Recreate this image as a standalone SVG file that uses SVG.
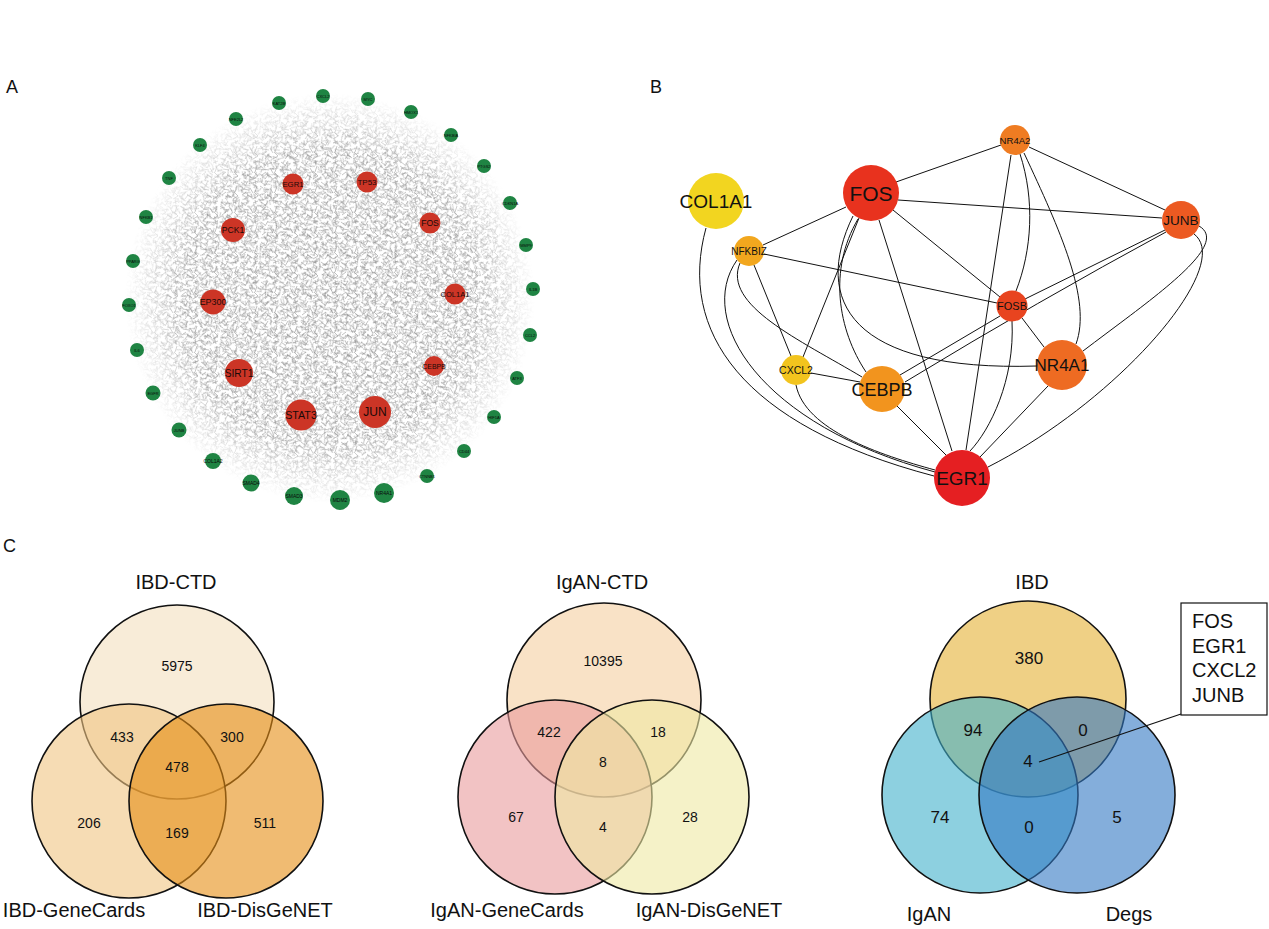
<svg xmlns="http://www.w3.org/2000/svg" width="1269" height="929" viewBox="0 0 1269 929">
<style>
text{font-family:"Liberation Sans",Arial,sans-serif;fill:#111;}
.let{font-size:18px;}
.rn{fill:#cc3526;}
.gn{fill:#1f8443;}
.gl{font-size:4px;text-anchor:middle;fill:#0a0a0a;}
.rl{text-anchor:middle;fill:#1a0a08;}
.e{fill:none;stroke:#111;stroke-width:1;}
.bl{text-anchor:middle;}
.vc{stroke:#111;stroke-width:1.6;fill-opacity:0.6;}
.vt{font-size:20px;text-anchor:middle;}
.vn{font-size:14px;text-anchor:middle;}
.vn3{font-size:17px;text-anchor:middle;}
.cl{fill:none;stroke:#8a8a8a;stroke-width:0.55;}
</style>
<defs>
<pattern id="pA" width="20" height="20" patternUnits="userSpaceOnUse">
<path class="cl" d="M1 2l4 3M8 1l-3 5M13 3l5-2M17 6l-2 6M3 9l6 1M10 8l3 5M2 15l4-3M7 14l5 4M14 12l4 4M18 16l-5 3M5 19l3-4M11 17l-4-2M0 6l3 2M15 0l1 4"/>
</pattern>
<pattern id="pB" width="27" height="27" patternUnits="userSpaceOnUse" patternTransform="rotate(37)">
<path class="cl" d="M2 3l6 2M12 2l-2 6M20 4l5 3M4 11l3 5M14 10l6-1M22 13l-4 5M1 21l5-2M9 18l4 6M17 21l6 2M24 24l-3 2M6 25l4-1M15 15l-3 3"/>
</pattern>
<pattern id="pC" width="33" height="33" patternUnits="userSpaceOnUse" patternTransform="rotate(71)">
<path class="cl" d="M3 4l7 3M16 2l-3 7M26 5l5 4M5 16l6-2M18 14l3 6M27 18l-6 3M2 27l5 3M12 25l7-2M23 28l5-4M30 31l-4 1M9 8l2 4"/>
</pattern>
<pattern id="pD" width="17" height="17" patternUnits="userSpaceOnUse" patternTransform="rotate(113)">
<path class="cl" d="M1 1l3 4M7 3l4-1M13 2l2 5M3 9l5 2M10 9l-2 5M15 11l-4 3M2 15l4 1M12 16l3-2"/>
</pattern>
<pattern id="pE" width="23" height="23" patternUnits="userSpaceOnUse" patternTransform="rotate(151)">
<path class="cl" d="M2 2l5 1M11 1l-2 5M18 3l3 4M4 10l2 5M12 9l5 3M20 13l-3 4M3 19l5 2M13 18l-4-3M19 20l3 2"/>
</pattern>
<radialGradient id="rg" cx="330" cy="298" r="205" gradientUnits="userSpaceOnUse">
<stop offset="0" stop-color="#fff" stop-opacity="1"/>
<stop offset="0.72" stop-color="#fff" stop-opacity="0.9"/>
<stop offset="1" stop-color="#fff" stop-opacity="0"/>
</radialGradient>
<mask id="mA"><circle cx="330" cy="298" r="205" fill="url(#rg)"/></mask>
</defs>
<rect width="1269" height="929" fill="#fff"/>

<text class="let" x="6" y="93">A</text>
<text class="let" x="650" y="93">B</text>
<text class="let" x="3" y="552">C</text>

<!-- Panel A -->
<g id="panelA-cloud" mask="url(#mA)">
<rect x="120" y="90" width="420" height="420" fill="url(#pA)"/>
<rect x="120" y="90" width="420" height="420" fill="url(#pB)"/>
<rect x="120" y="90" width="420" height="420" fill="url(#pC)"/>
<rect x="120" y="90" width="420" height="420" fill="url(#pD)"/>
<rect x="120" y="90" width="420" height="420" fill="url(#pE)"/>
</g>
<g id="panelA-nodes">
<g id="a-KAT2B"><circle class="gn" cx="279" cy="103" r="7"/><text class="gl" x="279" y="104.5">KAT2B</text></g>
<g id="a-CXCL2"><circle class="gn" cx="323" cy="96" r="7"/><text class="gl" x="323" y="97.5">CXCL2</text></g>
<g id="a-MYC"><circle class="gn" cx="368" cy="99" r="7"/><text class="gl" x="368" y="100.5">MYC</text></g>
<g id="a-HMOX1"><circle class="gn" cx="411" cy="112" r="7"/><text class="gl" x="411" y="113.5">HMOX1</text></g>
<g id="a-NFKBIA"><circle class="gn" cx="451" cy="135" r="7"/><text class="gl" x="451" y="136.5">NFKBIA</text></g>
<g id="a-PTGS2"><circle class="gn" cx="484" cy="166" r="7"/><text class="gl" x="484" y="167.5">PTGS2</text></g>
<g id="a-CDKN1A"><circle class="gn" cx="510" cy="203" r="7"/><text class="gl" x="510" y="204.5">CDKN1A</text></g>
<g id="a-MMP9"><circle class="gn" cx="526" cy="245" r="7"/><text class="gl" x="526" y="246.5">MMP9</text></g>
<g id="a-IL1B"><circle class="gn" cx="533" cy="289" r="7"/><text class="gl" x="533" y="290.5">IL1B</text></g>
<g id="a-CCL2"><circle class="gn" cx="530" cy="335" r="7"/><text class="gl" x="530" y="336.5">CCL2</text></g>
<g id="a-ATF3"><circle class="gn" cx="517" cy="378" r="7"/><text class="gl" x="517" y="379.5">ATF3</text></g>
<g id="a-HIF1A"><circle class="gn" cx="494" cy="417" r="7"/><text class="gl" x="494" y="418.5">HIF1A</text></g>
<g id="a-CD44"><circle class="gn" cx="464" cy="451" r="7"/><text class="gl" x="464" y="452.5">CD44</text></g>
<g id="a-CTNNB1"><circle class="gn" cx="427" cy="476" r="7"/><text class="gl" x="427" y="477.5">CTNNB1</text></g>
<g id="a-NR4A1"><circle class="gn" cx="384" cy="493" r="10"/><text class="gl" x="384" y="494.5" style="font-size:5px">NR4A1</text></g>
<g id="a-MDM2"><circle class="gn" cx="340" cy="500" r="10"/><text class="gl" x="340" y="501.5" style="font-size:5px">MDM2</text></g>
<g id="a-SMAD3"><circle class="gn" cx="294" cy="496" r="9"/><text class="gl" x="294" y="497.5" style="font-size:5px">SMAD3</text></g>
<g id="a-SMAD4"><circle class="gn" cx="251" cy="483" r="8.5"/><text class="gl" x="251" y="484.5" style="font-size:5px">SMAD4</text></g>
<g id="a-COL1A2"><circle class="gn" cx="213" cy="461" r="8"/><text class="gl" x="213" y="462.5" style="font-size:5px">COL1A2</text></g>
<g id="a-JUNB"><circle class="gn" cx="179" cy="430" r="7.5"/><text class="gl" x="179" y="431.5">JUNB</text></g>
<g id="a-EGFR"><circle class="gn" cx="153" cy="393" r="7.5"/><text class="gl" x="153" y="394.5">EGFR</text></g>
<g id="a-IL6"><circle class="gn" cx="137" cy="350" r="7"/><text class="gl" x="137" y="351.5">IL6</text></g>
<g id="a-FOXO1"><circle class="gn" cx="129" cy="305" r="7"/><text class="gl" x="129" y="306.5">FOXO1</text></g>
<g id="a-PPARG"><circle class="gn" cx="133" cy="261" r="7"/><text class="gl" x="133" y="262.5">PPARG</text></g>
<g id="a-NFKB1"><circle class="gn" cx="146" cy="217" r="7"/><text class="gl" x="146" y="218.5">NFKB1</text></g>
<g id="a-TNF"><circle class="gn" cx="169" cy="178" r="7"/><text class="gl" x="169" y="179.5">TNF</text></g>
<g id="a-KLF4"><circle class="gn" cx="200" cy="145" r="7"/><text class="gl" x="200" y="146.5">KLF4</text></g>
<g id="a-NFE2L2"><circle class="gn" cx="236" cy="119" r="7"/><text class="gl" x="236" y="120.5">NFE2L2</text></g>

<g id="a-EGR1"><circle class="rn" cx="293" cy="184" r="10.5"/><text class="rl" x="293" y="187" style="font-size:7.8px">EGR1</text></g>
<g id="a-TP53"><circle class="rn" cx="367" cy="182" r="10.5"/><text class="rl" x="367" y="185" style="font-size:8px">TP53</text></g>
<g id="a-PCK1"><circle class="rn" cx="233" cy="230" r="12"/><text class="rl" x="233" y="233" style="font-size:8.6px">PCK1</text></g>
<g id="a-FOS"><circle class="rn" cx="430" cy="223" r="10.5"/><text class="rl" x="430" y="226" style="font-size:8.6px">FOS</text></g>
<g id="a-EP300"><circle class="rn" cx="213" cy="302" r="12.5"/><text class="rl" x="213" y="305" style="font-size:8.9px">EP300</text></g>
<g id="a-COL1A1"><circle class="rn" cx="455" cy="294" r="10.5"/><text class="rl" x="455" y="296.8" style="font-size:7.5px">COL1A1</text></g>
<g id="a-SIRT1"><circle class="rn" cx="239" cy="373" r="14"/><text class="rl" x="239" y="376.5" style="font-size:10.2px">SIRT1</text></g>
<g id="a-CEBPB"><circle class="rn" cx="434" cy="366" r="10"/><text class="rl" x="434" y="368.5" style="font-size:6.9px">CEBPB</text></g>
<g id="a-STAT3"><circle class="rn" cx="301" cy="415" r="15.5"/><text class="rl" x="301" y="419" style="font-size:10.7px">STAT3</text></g>
<g id="a-JUN"><circle class="rn" cx="375" cy="412" r="16"/><text class="rl" x="375" y="416" style="font-size:12px">JUN</text></g>
</g>

<!-- Panel B connectors -->
<g id="panelB-edges">
<path class="e" d="M896,182 L1001,145"/>
<path class="e" d="M898,200 L1162,218"/>
<path class="e" d="M1029,147 L1165,210"/>
<path class="e" d="M846,207 L763,245"/>
<path class="e" d="M764,254 L997,303"/>
<path class="e" d="M893,210 L1000,297"/>
<path class="e" d="M879,220 L952,451"/>
<path class="e" d="M1025,299 L1165,230"/>
<path class="e" d="M1022,318 L1044,347"/>
<path class="e" d="M1000,316 L900,375"/>
<path class="e" d="M1166,232 Q1040,300 905,382"/>
<path class="e" d="M1199,226 C1232,245 1150,300 1083,351"/>
<path class="e" d="M1194,234 C1235,265 1120,400 988,467"/>
<path class="e" d="M1011,155 L966,450"/>
<path class="e" d="M1020,154 C1035,200 1032,250 1016,291"/>
<path class="e" d="M1024,153 C1060,230 1092,300 1076,344"/>
<path class="e" d="M1012,321 C1015,380 990,430 970,451"/>
<path class="e" d="M1048,386 L980,457"/>
<path class="e" d="M897,406 L946,455"/>
<path class="e" d="M811,373 L860,382"/>
<path class="e" d="M803,357 L859,218"/>
<path class="e" d="M754,265 L791,356"/>
<path class="e" d="M740,263 C722,305 800,340 862,377"/>
<path class="e" d="M737,260 C695,320 760,425 935,472"/>
<path class="e" d="M706,228 C678,330 740,425 934,476"/>
<path class="e" d="M796,385 C805,430 880,455 935,470"/>
<path class="e" d="M858,219 C828,270 838,330 866,372"/>
<path class="e" d="M853,216 C812,300 850,372 1037,366"/>
</g>
<!-- Panel B nodes -->
<g id="b-COL1A1"><circle cx="716" cy="201" r="28" fill="#f2d520"/><text class="bl" x="716" y="208" style="font-size:19px">COL1A1</text></g>
<g id="b-FOS"><circle cx="871" cy="193" r="28" fill="#e8321e"/><text class="bl" x="871" y="200.5" style="font-size:21px">FOS</text></g>
<g id="b-NR4A2"><circle cx="1015" cy="140" r="15" fill="#ef7c22"/><text class="bl" x="1015" y="143.5" style="font-size:9.6px">NR4A2</text></g>
<g id="b-JUNB"><circle cx="1181" cy="220" r="19" fill="#ec5a22"/><text class="bl" x="1181" y="225" style="font-size:13.5px">JUNB</text></g>
<g id="b-NFKBIZ"><circle cx="749" cy="251" r="15" fill="#f2a71e"/><text class="bl" x="749" y="254.5" style="font-size:10px">NFKBIZ</text></g>
<g id="b-FOSB"><circle cx="1012" cy="306" r="15.5" fill="#e8441f"/><text class="bl" x="1012" y="310" style="font-size:11px">FOSB</text></g>
<g id="b-CXCL2"><circle cx="796" cy="370" r="15" fill="#f2c41e"/><text class="bl" x="796" y="373.7" style="font-size:10.5px">CXCL2</text></g>
<g id="b-CEBPB"><circle cx="882" cy="389" r="23" fill="#f2941e"/><text class="bl" x="882" y="395.5" style="font-size:18px">CEBPB</text></g>
<g id="b-NR4A1"><circle cx="1062" cy="365" r="25" fill="#ee6b22"/><text class="bl" x="1062" y="371" style="font-size:17px">NR4A1</text></g>
<g id="b-EGR1"><circle cx="962" cy="478" r="28" fill="#e51f22"/><text class="bl" x="962" y="485" style="font-size:19px">EGR1</text></g>

<!-- Panel C venn 1 -->
<g id="venn1">
<circle class="vc" cx="177" cy="702" r="97" fill="#f3dfbe"/>
<circle class="vc" cx="129" cy="801" r="97" fill="#f0c582"/>
<circle class="vc" cx="226" cy="801" r="97" fill="#e68e14"/>
<text class="vt" x="176" y="589">IBD-CTD</text>
<text class="vt" x="74" y="917">IBD-GeneCards</text>
<text class="vt" x="265" y="917">IBD-DisGeNET</text>
<text class="vn" x="177" y="671">5975</text>
<text class="vn" x="122" y="742">433</text>
<text class="vn" x="232" y="742">300</text>
<text class="vn" x="177" y="772">478</text>
<text class="vn" x="89" y="828">206</text>
<text class="vn" x="177" y="838">169</text>
<text class="vn" x="265" y="828">511</text>
</g>

<!-- venn 2 -->
<g id="venn2">
<circle class="vc" cx="604" cy="700" r="97" fill="#f5cfa0"/>
<circle class="vc" cx="555" cy="797" r="97" fill="#e99b9d"/>
<circle class="vc" cx="652" cy="797" r="97" fill="#eee9a3"/>
<text class="vt" x="602" y="589">IgAN-CTD</text>
<text class="vt" x="507" y="917">IgAN-GeneCards</text>
<text class="vt" x="709" y="917">IgAN-DisGeNET</text>
<text class="vn" x="603" y="666">10395</text>
<text class="vn" x="549" y="737">422</text>
<text class="vn" x="658" y="737">18</text>
<text class="vn" x="603" y="767">8</text>
<text class="vn" x="516" y="822">67</text>
<text class="vn" x="603" y="832">4</text>
<text class="vn" x="690" y="822">28</text>
</g>

<!-- venn 3 -->
<g id="venn3">
<circle class="vc" cx="1028" cy="699" r="98" fill="#e4b134"/>
<circle class="vc" cx="980" cy="795" r="98" fill="#41b1cb"/>
<circle class="vc" cx="1077" cy="795" r="98" fill="#3278c3"/>
<text class="vt" x="1032" y="589">IBD</text>
<text class="vt" x="929" y="921">IgAN</text>
<text class="vt" x="1129" y="921">Degs</text>
<text class="vn3" x="1029" y="664">380</text>
<text class="vn3" x="973" y="736">94</text>
<text class="vn3" x="1083" y="736">0</text>
<text class="vn3" x="1028" y="767">4</text>
<text class="vn3" x="940" y="823">74</text>
<text class="vn3" x="1029" y="833">0</text>
<text class="vn3" x="1117" y="823">5</text>
</g>
<g id="callout">
<path d="M1039,762 L1181,714" stroke="#111" stroke-width="1.2" fill="none"/>
<rect x="1181" y="603" width="86" height="112" fill="#fff" stroke="#111" stroke-width="1.2"/>
<text x="1192" y="628" style="font-size:20px">FOS</text>
<text x="1192" y="653" style="font-size:20px">EGR1</text>
<text x="1192" y="677" style="font-size:20px">CXCL2</text>
<text x="1192" y="702" style="font-size:20px">JUNB</text>
</g>
</svg>
